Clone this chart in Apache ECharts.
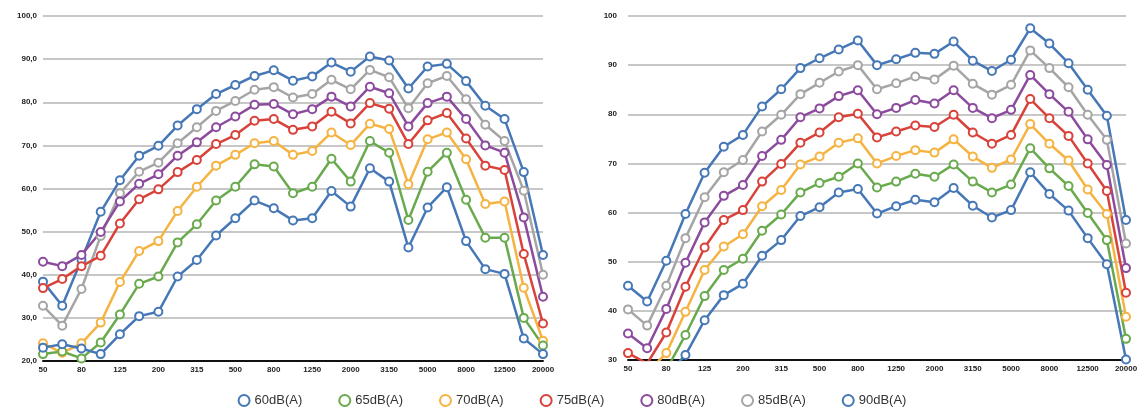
<!DOCTYPE html>
<html>
<head>
<meta charset="utf-8">
<script src="https://cdn.jsdelivr.net/npm/echarts@6/dist/echarts.min.js"></script>
<style>
  html, body { margin: 0; padding: 0; background: #ffffff; }
  #chart { width: 1144px; height: 412px; }
</style>
</head>
<body>
<div id="chart"></div>
<script>
// 1/3-octave band centre frequencies (Hz)
const bands = ['50','63','80','100','125','160','200','250','315','400','500','630','800','1000',
  '1250','1600','2000','2500','3150','4000','5000','6300','8000','10000','12500','16000','20000'];

const seriesNames = ['60dB(A)','65dB(A)','70dB(A)','75dB(A)','80dB(A)','85dB(A)','90dB(A)'];

// Left panel levels per band
const left60 = [23.1,23.9,22.9,21.6,26.2,30.4,31.4,39.6,43.4,49.1,53.1,57.2,55.4,52.6,53.1,59.4,55.8,64.7,61.6,46.3,55.6,60.3,47.8,41.3,40.2,25.2,21.6];
const left65 = [21.6,22.2,20.6,24.3,30.8,37.9,39.6,47.5,51.7,57.2,60.4,65.6,65.1,58.9,60.4,66.9,61.6,71.0,68.3,52.7,63.9,68.3,57.4,48.6,48.6,30.0,23.6];
const left70 = [24.1,21.9,24.1,28.9,38.3,45.5,47.8,54.8,60.4,65.3,67.8,70.5,71.0,67.8,68.7,73.0,70.1,75.0,73.8,61.0,71.4,73.0,66.8,56.4,57.0,37.0,24.7];
const left75 = [36.9,39.0,42.0,44.4,51.9,57.5,59.8,63.8,66.6,70.3,72.4,75.7,76.1,73.6,74.4,77.8,75.1,79.8,78.5,70.3,75.8,77.5,71.6,65.3,64.3,44.8,28.7];
const left80 = [43.0,42.0,44.6,49.9,57.0,61.1,63.3,67.6,70.7,74.2,76.7,79.4,79.6,77.2,78.4,81.3,79.0,83.6,82.1,74.4,79.8,81.3,76.1,70.0,68.3,53.3,34.9];
const left85 = [32.8,28.2,36.7,49.0,58.9,63.9,66.0,70.5,74.2,78.0,80.3,82.9,83.5,81.1,81.9,85.2,83.0,87.5,85.8,78.6,84.4,86.1,80.7,74.8,71.0,59.5,40.0];
const left90 = [38.4,32.8,43.5,54.6,61.9,67.6,69.9,74.6,78.4,81.9,84.0,86.1,87.4,85.0,86.0,89.2,87.1,90.6,89.7,83.2,88.3,88.9,84.9,79.2,76.1,63.8,44.6];

// Right panel levels per band
const right60 = [24.0,22.0,27.0,31.0,38.1,43.2,45.5,51.2,54.4,59.3,61.1,64.1,64.8,59.8,61.3,62.6,62.1,65.0,61.4,59.0,60.5,68.2,63.8,60.4,54.8,49.5,30.1];
const right65 = [26.5,25.5,28.0,35.1,43.0,48.3,50.6,56.3,59.6,64.1,66.0,67.3,70.0,65.1,66.3,67.9,67.3,69.8,66.3,64.1,65.7,73.1,69.0,65.4,59.9,54.4,34.3];
const right70 = [27.6,27.4,31.4,39.8,48.3,53.1,55.6,61.3,64.6,69.8,71.4,74.2,75.1,70.0,71.5,72.7,72.2,74.9,71.4,69.1,70.8,78.0,74.0,70.6,64.7,59.7,38.8];
const right75 = [31.4,29.3,35.6,44.9,52.9,58.5,60.5,66.3,69.9,74.2,76.3,79.4,80.1,75.3,76.5,77.7,77.4,79.9,76.3,74.0,75.8,83.1,79.2,75.6,70.0,64.4,43.7];
const right80 = [35.4,32.4,40.4,49.8,58.0,63.4,65.6,71.5,74.8,79.4,81.2,83.7,84.9,80.0,81.3,82.9,82.2,84.9,81.3,79.2,80.9,88.0,84.1,80.5,74.9,69.7,48.7];
const right85 = [40.3,37.0,45.1,54.8,63.1,68.2,70.7,76.5,79.9,84.1,86.4,88.7,90.0,85.1,86.3,87.7,87.1,89.9,86.2,84.0,86.0,93.0,89.4,85.5,79.9,74.8,53.7];
const right90 = [45.1,41.9,50.2,59.7,68.1,73.4,75.8,81.6,85.1,89.4,91.4,93.2,95.0,90.0,91.2,92.5,92.3,94.8,90.9,88.8,91.1,97.5,94.4,90.4,85.0,79.7,58.5];

const seriesColors = ['#4677b6','#6aaa4e','#f5b342','#d8423a','#8c4b9d','#a5a5a5','#4677b6'];

const leftData = [left60, left65, left70, left75, left80, left85, left90];
const rightData = [right60, right65, right70, right75, right80, right85, right90];

const labelFont = { fontFamily: 'Liberation Sans, Arial, sans-serif', fontWeight: 'bold', fontSize: 8, color: '#222' };

function xAxisFor(gridIndex) {
  return {
    type: 'category', gridIndex, data: bands, boundaryGap: false,
    axisLine: { lineStyle: { color: '#111', width: 2 } },
    axisTick: { show: false },
    axisLabel: Object.assign({ interval: 1, margin: 5 }, labelFont),
    splitLine: { show: false }
  };
}

function lineSeries(name, data, color, xi, yi) {
  return {
    name, type: 'line', data, xAxisIndex: xi, yAxisIndex: yi,
    symbol: 'emptyCircle', symbolSize: 8, clip: true,
    lineStyle: { color, width: 2.5 },
    itemStyle: { color, borderColor: color, borderWidth: 2.2 },
    emphasis: { disabled: true },
    z: 3
  };
}

// Loudest level drawn first so the quieter curves sit on top
const series = [];
for (let k = seriesNames.length - 1; k >= 0; k--) {
  series.push(lineSeries(seriesNames[k], leftData[k], seriesColors[k], 0, 0));
}
for (let k = seriesNames.length - 1; k >= 0; k--) {
  series.push(lineSeries(seriesNames[k], rightData[k], seriesColors[k], 1, 1));
}

const chart = echarts.init(document.getElementById('chart'));
chart.setOption({
  animation: false,
  grid: [
    { left: 43, top: 16, width: 500, height: 345 },
    { left: 628, top: 16, width: 498, height: 344 }
  ],
  xAxis: [xAxisFor(0), xAxisFor(1)],
  yAxis: [
    {
      type: 'value', gridIndex: 0, min: 20, max: 100, interval: 10,
      axisLine: { show: false }, axisTick: { show: false },
      axisLabel: Object.assign({ margin: 6, formatter: v => v.toFixed(1).replace('.', ',') }, labelFont),
      splitLine: { lineStyle: { color: '#b4b4b4', width: 1.5 } }
    },
    {
      type: 'value', gridIndex: 1, min: 30, max: 100, interval: 10,
      axisLine: { show: false }, axisTick: { show: false },
      axisLabel: Object.assign({ margin: 11 }, labelFont),
      splitLine: { lineStyle: { color: '#b4b4b4', width: 1.5 } }
    }
  ],
  legend: {
    data: seriesNames,
    left: 'center', top: 389,
    icon: 'emptyCircle',
    itemWidth: 11, itemHeight: 11, itemGap: 36,
    itemStyle: { borderWidth: 3 },
    textStyle: { fontFamily: 'Liberation Sans, Arial, sans-serif', fontSize: 13, color: '#333' }
  },
  series
});
</script>
</body>
</html>
